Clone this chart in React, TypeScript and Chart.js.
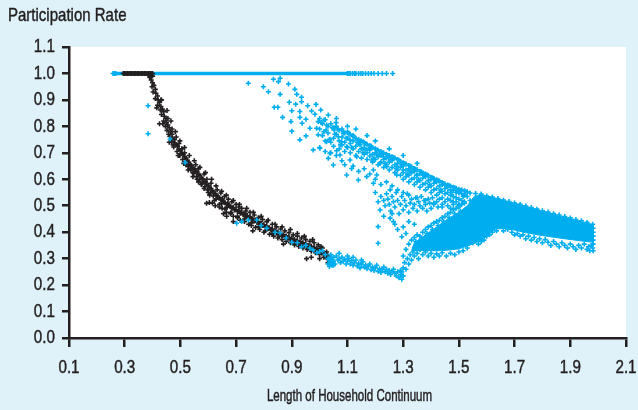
import React, { useEffect, useRef } from 'react';
import { Chart, registerables } from 'chart.js';

Chart.register(...registerables);

const BLUE = '#00aeef';
const BLACK = '#231f20';
const BG = '#dff1f9';
const FONT = '"Liberation Sans", Arial, sans-serif';

const xTicks = [0.1, 0.3, 0.5, 0.7, 0.9, 1.1, 1.3, 1.5, 1.7, 1.9, 2.1];
const yTicks = [0.0, 0.1, 0.2, 0.3, 0.4, 0.5, 0.6, 0.7, 0.8, 0.9, 1.0, 1.1];
const yTitle = 'Participation Rate';
const xTitle = 'Length of Household Continuum';

// blue solid run at participation rate 1.0
const blueLineX = [0.27, 1.1];
const blueLineY = [1.0, 1.0];

// black series (x, y pairs)
const blackFlat = [
  0.295, 1.0, 0.3, 1.0, 0.305, 1.0, 0.31, 1.0, 0.315, 1.0, 0.32, 1.0, 0.325, 1.0, 0.33, 1.0, 0.335, 1.0,
  0.34, 1.0, 0.345, 1.0, 0.35, 1.0, 0.355, 1.0, 0.36, 1.0, 0.365, 1.0, 0.37, 1.0, 0.375, 1.0, 0.38, 1.0,
  0.385, 1.0, 0.39, 1.0, 0.395, 1.0, 0.4, 1.0, 0.385, 0.995, 0.395, 0.99, 0.4, 0.99,
];
const blackCurve = [
  0.39, 0.985, 0.395, 0.975, 0.4, 0.965, 0.398, 0.95, 0.405, 0.955, 0.41, 0.94, 0.402, 0.93, 0.412, 0.925,
  0.418, 0.915, 0.41, 0.905, 0.42, 0.9, 0.425, 0.89, 0.418, 0.88, 0.43, 0.875, 0.428, 0.862, 0.435, 0.865,
  0.44, 0.855, 0.432, 0.845, 0.442, 0.838, 0.448, 0.83, 0.44, 0.82, 0.45, 0.815, 0.455, 0.805, 0.446, 0.8,
  0.46, 0.795, 0.452, 0.785, 0.465, 0.78, 0.47, 0.77, 0.462, 0.762, 0.472, 0.755, 0.478, 0.75, 0.468, 0.742,
  0.48, 0.738, 0.485, 0.73, 0.476, 0.722, 0.49, 0.725, 0.495, 0.715, 0.488, 0.705, 0.5, 0.708, 0.505, 0.698,
  0.498, 0.69, 0.51, 0.695, 0.515, 0.685, 0.508, 0.675, 0.52, 0.68, 0.525, 0.672, 0.518, 0.66, 0.53, 0.665,
  0.535, 0.655, 0.528, 0.648, 0.54, 0.652, 0.545, 0.643, 0.538, 0.635, 0.55, 0.64, 0.555, 0.63, 0.548, 0.622,
  0.56, 0.628, 0.565, 0.618, 0.558, 0.61, 0.57, 0.615, 0.575, 0.605, 0.568, 0.598, 0.58, 0.602, 0.585, 0.592,
  0.578, 0.585, 0.59, 0.59, 0.595, 0.58, 0.588, 0.572, 0.6, 0.577, 0.605, 0.568, 0.598, 0.56, 0.61, 0.565,
  0.615, 0.555, 0.608, 0.548, 0.62, 0.552, 0.625, 0.545, 0.618, 0.537, 0.63, 0.54, 0.635, 0.533, 0.628, 0.525,
  0.64, 0.53, 0.645, 0.522, 0.65, 0.525, 0.655, 0.515, 0.648, 0.508, 0.66, 0.512, 0.665, 0.505, 0.67, 0.51,
  0.675, 0.5, 0.668, 0.494, 0.68, 0.498, 0.685, 0.49, 0.69, 0.493, 0.695, 0.484, 0.7, 0.486, 0.705, 0.478,
  0.71, 0.482, 0.715, 0.472, 0.72, 0.475, 0.725, 0.466, 0.73, 0.47, 0.735, 0.46, 0.74, 0.463, 0.745, 0.455,
  0.75, 0.458, 0.755, 0.448, 0.76, 0.45, 0.765, 0.442, 0.77, 0.446, 0.775, 0.437, 0.78, 0.44, 0.785, 0.43,
  0.79, 0.434, 0.795, 0.425, 0.8, 0.428, 0.805, 0.42, 0.81, 0.423, 0.815, 0.414, 0.82, 0.417, 0.825, 0.408,
  0.83, 0.412, 0.835, 0.402, 0.84, 0.406, 0.845, 0.397, 0.85, 0.4, 0.855, 0.392, 0.86, 0.395, 0.865, 0.387,
  0.87, 0.39, 0.875, 0.382, 0.88, 0.386, 0.885, 0.377, 0.89, 0.381, 0.895, 0.372, 0.9, 0.377, 0.905, 0.368,
  0.91, 0.372, 0.915, 0.364, 0.92, 0.368, 0.925, 0.36, 0.93, 0.364, 0.935, 0.355, 0.94, 0.36, 0.945, 0.352,
  0.95, 0.356, 0.955, 0.347, 0.96, 0.351, 0.965, 0.343, 0.97, 0.347, 0.975, 0.338, 0.98, 0.343, 0.985, 0.334,
  0.99, 0.338, 0.995, 0.33, 1.0, 0.334, 1.005, 0.325, 1.01, 0.322, 1.015, 0.315, 1.02, 0.31, 1.025, 0.303,
  1.03, 0.298, 1.035, 0.29,
];
const blackSpread = [
  0.43, 0.9, 0.455, 0.83, 0.425, 0.81, 0.46, 0.74, 0.47, 0.79, 0.485, 0.76, 0.495, 0.735, 0.505, 0.715,
  0.515, 0.7, 0.52, 0.655, 0.535, 0.64, 0.545, 0.625, 0.555, 0.655, 0.565, 0.64, 0.56, 0.6, 0.575, 0.58,
  0.585, 0.62, 0.595, 0.6, 0.6, 0.55, 0.61, 0.585, 0.594, 0.509, 0.604, 0.512, 0.615, 0.51, 0.625, 0.5,
  0.632, 0.56, 0.64, 0.505, 0.645, 0.548, 0.65, 0.49, 0.658, 0.535, 0.665, 0.475, 0.672, 0.525, 0.68, 0.47,
  0.685, 0.515, 0.69, 0.46, 0.7, 0.505, 0.705, 0.455, 0.71, 0.495, 0.715, 0.445, 0.72, 0.49, 0.73, 0.44,
  0.735, 0.48, 0.745, 0.43, 0.75, 0.475, 0.755, 0.425, 0.765, 0.465, 0.77, 0.418, 0.78, 0.455, 0.785, 0.41,
  0.795, 0.448, 0.8, 0.4, 0.81, 0.44, 0.82, 0.392, 0.83, 0.43, 0.835, 0.385, 0.845, 0.42, 0.85, 0.378,
  0.86, 0.412, 0.865, 0.372, 0.875, 0.405, 0.88, 0.365, 0.89, 0.398, 0.895, 0.36, 0.905, 0.39, 0.91, 0.352,
  0.92, 0.385, 0.925, 0.346, 0.935, 0.378, 0.94, 0.34, 0.95, 0.372, 0.955, 0.335, 0.965, 0.366, 0.97, 0.328,
  0.98, 0.36, 0.985, 0.322, 0.995, 0.352, 1.0, 0.316, 1.01, 0.34, 1.015, 0.305, 1.025, 0.325, 1.03, 0.285,
  1.04, 0.295, 0.666, 0.46, 0.655, 0.47, 0.69, 0.44, 0.76, 0.405, 0.87, 0.355, 0.953, 0.3, 0.97, 0.305, 1.0, 0.3,
];
const blackWide = [
  0.415, 0.87, 0.432, 0.9, 0.437, 0.81, 0.452, 0.86, 0.458, 0.77, 0.466, 0.82, 0.474, 0.73, 0.482, 0.78,
  0.492, 0.69, 0.498, 0.745, 0.512, 0.66, 0.515, 0.72, 0.528, 0.635, 0.532, 0.69, 0.545, 0.61, 0.55, 0.67,
  0.565, 0.59, 0.57, 0.645, 0.585, 0.565, 0.59, 0.625, 0.605, 0.54, 0.612, 0.6, 0.622, 0.52, 0.628, 0.575,
  0.64, 0.495, 0.648, 0.555, 0.66, 0.488, 0.665, 0.54, 0.682, 0.475, 0.69, 0.52, 0.705, 0.46, 0.712, 0.505,
  0.73, 0.45, 0.738, 0.49, 0.755, 0.435, 0.762, 0.475, 0.78, 0.42, 0.79, 0.46, 0.805, 0.405, 0.815, 0.445,
  0.83, 0.395, 0.84, 0.43, 0.855, 0.385, 0.865, 0.42, 0.88, 0.375, 0.895, 0.41, 0.91, 0.36, 0.92, 0.395,
  0.935, 0.35, 0.945, 0.385, 0.96, 0.34, 0.975, 0.372, 0.99, 0.33, 1.005, 0.345, 1.02, 0.32, 1.03, 0.31,
];

// blue series (x, y pairs)
const blueFlatEnds = [
  0.258, 1.0, 0.263, 1.0, 0.268, 1.0, 1.1, 1.0, 1.105, 1.0, 1.11, 1.0, 1.118, 1.0, 1.125, 1.0, 1.13, 1.0,
  1.14, 1.0, 1.148, 1.0, 1.155, 1.0, 1.165, 1.0, 1.175, 1.0, 1.185, 1.0, 1.195, 1.0, 1.21, 1.0, 1.225, 1.0,
  1.24, 1.0, 1.262, 1.0,
];
const blueLeft = [
  0.384, 0.878, 0.384, 0.772, 0.463, 0.752, 0.517, 0.663,
  0.702, 0.434, 0.72, 0.44, 0.744, 0.446, 0.774, 0.446, 0.79, 0.425, 0.81, 0.415, 0.84, 0.4, 0.858, 0.397,
  0.88, 0.378, 0.9, 0.362, 0.92, 0.36, 0.935, 0.345, 0.95, 0.35, 0.965, 0.34, 0.976, 0.333, 0.99, 0.322,
  1.0, 0.327, 1.01, 0.33, 1.02, 0.315,
  1.03, 0.28, 1.035, 0.295, 1.04, 0.285, 1.04, 0.305, 1.045, 0.275, 1.045, 0.295, 1.05, 0.29, 1.05, 0.305,
  1.055, 0.28, 1.035, 0.27, 1.04, 0.315, 1.03, 0.3, 1.045, 0.285, 1.05, 0.275,
];
const blueLower = [
  1.06, 0.31, 1.065, 0.295, 1.07, 0.3, 1.075, 0.285, 1.08, 0.305, 1.085, 0.29, 1.09, 0.298, 1.095, 0.28,
  1.1, 0.29, 1.105, 0.3, 1.11, 0.28, 1.115, 0.292, 1.12, 0.275, 1.125, 0.285, 1.13, 0.295, 1.135, 0.272,
  1.14, 0.282, 1.145, 0.265, 1.15, 0.278, 1.155, 0.288, 1.16, 0.268, 1.165, 0.276, 1.17, 0.262, 1.175, 0.272,
  1.18, 0.28, 1.185, 0.258, 1.19, 0.268, 1.195, 0.255, 1.2, 0.265, 1.205, 0.275, 1.21, 0.252, 1.215, 0.262,
  1.22, 0.248, 1.225, 0.258, 1.23, 0.268, 1.235, 0.25, 1.24, 0.26, 1.245, 0.245, 1.25, 0.255, 1.255, 0.24,
  1.26, 0.25, 1.265, 0.26, 1.27, 0.245, 1.275, 0.235, 1.28, 0.25, 1.285, 0.228, 1.29, 0.24, 1.295, 0.222,
  1.29, 0.255, 1.3, 0.235, 1.07, 0.32, 1.1, 0.31, 1.12, 0.305, 1.15, 0.295,
];
const blueUpper = [
  0.744, 0.963, 0.798, 0.95, 0.816, 0.931, 0.834, 0.978, 0.858, 0.982, 0.852, 0.969, 0.888, 0.96, 0.911, 0.94,
  0.858, 0.921, 0.918, 0.921, 0.935, 0.91, 0.935, 0.893, 0.891, 0.891, 0.914, 0.884, 0.837, 0.872, 0.85, 0.872,
  0.957, 0.878, 0.987, 0.883, 0.9, 0.859, 0.929, 0.856, 0.971, 0.858, 1.004, 0.862, 0.867, 0.834, 0.929, 0.834,
  0.951, 0.827, 0.983, 0.846, 0.995, 0.818, 1.016, 0.824, 1.031, 0.843, 0.897, 0.818, 0.937, 0.812, 0.965, 0.793,
  0.989, 0.793, 1.023, 0.786, 1.052, 0.786, 1.059, 0.814, 0.9, 0.782, 0.951, 0.764, 0.929, 0.749, 0.995, 0.768,
  1.037, 0.751, 1.067, 0.761, 1.085, 0.774, 0.977, 0.711, 1.001, 0.717, 1.025, 0.742, 1.037, 0.698, 1.061, 0.708,
  1.079, 0.742, 1.097, 0.723, 1.109, 0.749, 1.121, 0.761, 1.031, 0.679, 1.049, 0.654, 1.073, 0.692, 1.097, 0.616,
  1.115, 0.641, 1.109, 0.673, 1.133, 0.685, 1.145, 0.73, 1.157, 0.742, 1.163, 0.711, 1.181, 0.717, 1.187, 0.673,
  1.205, 0.692, 1.169, 0.61, 1.193, 0.635, 1.217, 0.66, 1.229, 0.685, 1.241, 0.648, 1.253, 0.673, 1.277, 0.648,
  1.3, 0.635, 1.324, 0.629, 1.348, 0.616, 1.372, 0.616, 1.277, 0.616, 1.205, 0.616,
  1.06, 0.83, 1.1, 0.8, 1.13, 0.79, 1.17, 0.765, 1.2, 0.745, 1.25, 0.715, 1.3, 0.69, 1.35, 0.66,
];
const blueStripe = [
  1.0, 0.83, 1.0, 0.79, 1.01, 0.81, 1.01, 0.765, 1.02, 0.825, 1.02, 0.745, 1.03, 0.8, 1.03, 0.775,
  1.04, 0.81, 1.04, 0.74, 1.05, 0.795, 1.05, 0.755, 1.05, 0.725, 1.06, 0.8, 1.06, 0.77,
  1.07, 0.785, 1.07, 0.745, 1.07, 0.715, 1.08, 0.79, 1.08, 0.76, 1.08, 0.73, 1.09, 0.775, 1.09, 0.74, 1.09, 0.705,
  1.1, 0.78, 1.1, 0.755, 1.1, 0.72, 1.11, 0.77, 1.11, 0.735, 1.11, 0.7, 1.12, 0.765, 1.12, 0.745, 1.12, 0.715,
  1.13, 0.755, 1.13, 0.725, 1.13, 0.69, 1.14, 0.75, 1.14, 0.735, 1.14, 0.705, 1.15, 0.745, 1.15, 0.715, 1.15, 0.68,
  1.16, 0.738, 1.16, 0.72, 1.16, 0.695, 1.17, 0.732, 1.17, 0.7, 1.17, 0.675, 1.18, 0.728, 1.18, 0.71, 1.18, 0.688,
  1.19, 0.72, 1.19, 0.695, 1.19, 0.665, 1.2, 0.715, 1.2, 0.7, 1.2, 0.675, 1.21, 0.71, 1.21, 0.685, 1.21, 0.655,
  1.22, 0.705, 1.22, 0.69, 1.22, 0.665, 1.23, 0.7, 1.23, 0.675, 1.23, 0.645, 1.24, 0.695, 1.24, 0.68, 1.24, 0.655,
  1.25, 0.69, 1.25, 0.665, 1.25, 0.635, 1.26, 0.685, 1.26, 0.67, 1.26, 0.645, 1.27, 0.68, 1.27, 0.655, 1.27, 0.625,
  1.28, 0.675, 1.28, 0.66, 1.28, 0.635, 1.29, 0.668, 1.29, 0.645, 1.29, 0.615, 1.3, 0.662, 1.3, 0.65, 1.3, 0.625,
  1.3, 0.6, 1.31, 0.658, 1.31, 0.635, 1.31, 0.61, 1.32, 0.652, 1.32, 0.64, 1.32, 0.615, 1.32, 0.59,
  1.33, 0.647, 1.33, 0.625, 1.33, 0.6, 1.34, 0.641, 1.34, 0.63, 1.34, 0.605, 1.34, 0.58, 1.35, 0.636, 1.35, 0.615,
  1.35, 0.59, 1.36, 0.63, 1.36, 0.62, 1.36, 0.595, 1.36, 0.57, 1.37, 0.625, 1.37, 0.605, 1.37, 0.58,
  1.38, 0.62, 1.38, 0.61, 1.38, 0.585, 1.38, 0.56, 1.39, 0.614, 1.39, 0.595, 1.39, 0.57, 1.4, 0.608, 1.4, 0.6,
  1.4, 0.575, 1.4, 0.55, 1.41, 0.603, 1.41, 0.585, 1.41, 0.56, 1.42, 0.598, 1.42, 0.59, 1.42, 0.565, 1.42, 0.54,
  1.43, 0.593, 1.43, 0.575, 1.43, 0.55, 1.44, 0.588, 1.44, 0.58, 1.44, 0.555, 1.44, 0.53, 1.45, 0.582, 1.45, 0.565,
  1.45, 0.545, 1.46, 0.578, 1.46, 0.57, 1.46, 0.55, 1.46, 0.525, 1.47, 0.574, 1.47, 0.56, 1.47, 0.54,
  1.48, 0.57, 1.48, 0.558, 1.48, 0.535, 1.48, 0.515, 1.49, 0.566, 1.49, 0.55, 1.49, 0.53, 1.5, 0.562, 1.5, 0.548,
  1.5, 0.525, 1.5, 0.505, 1.51, 0.56, 1.51, 0.545, 1.51, 0.52, 1.52, 0.557, 1.52, 0.54, 1.52, 0.515, 1.53, 0.553,
  1.53, 0.535,
];
const blueStripeFill = [
  1.005, 0.815, 1.015, 0.78, 1.025, 0.805, 1.035, 0.75, 1.045, 0.795, 1.055, 0.77, 1.065, 0.79, 1.075, 0.73,
  1.085, 0.78, 1.095, 0.755, 1.105, 0.77, 1.115, 0.72, 1.125, 0.76, 1.135, 0.74, 1.145, 0.745, 1.155, 0.7,
  1.165, 0.735, 1.175, 0.715, 1.185, 0.725, 1.195, 0.68, 1.205, 0.712, 1.215, 0.695, 1.225, 0.7, 1.235, 0.66,
  1.245, 0.69, 1.255, 0.675, 1.265, 0.682, 1.275, 0.64, 1.285, 0.672, 1.295, 0.655, 1.305, 0.66, 1.315, 0.62,
  1.325, 0.65, 1.335, 0.635, 1.345, 0.638, 1.355, 0.6, 1.365, 0.628, 1.375, 0.615, 1.385, 0.617, 1.395, 0.58,
  1.405, 0.606, 1.415, 0.594, 1.425, 0.596, 1.435, 0.56, 1.445, 0.584, 1.455, 0.575, 1.465, 0.576, 1.475, 0.55,
  1.485, 0.568, 1.495, 0.556, 1.505, 0.558, 1.515, 0.535, 1.525, 0.553,
];
const blueMid = [
  1.0, 0.72, 1.02, 0.705, 1.04, 0.7, 1.06, 0.69, 1.08, 0.67, 1.09, 0.655, 1.12, 0.65, 1.14, 0.63, 1.16, 0.64,
  1.18, 0.62, 1.2, 0.6, 1.22, 0.58, 1.24, 0.59, 1.26, 0.575, 1.28, 0.56, 1.3, 0.55, 1.32, 0.54, 1.35, 0.53,
  1.38, 0.52, 1.41, 0.51, 1.44, 0.495, 1.47, 0.49, 1.139, 0.597, 1.193, 0.585, 1.253, 0.56,
  1.2, 0.55, 1.21, 0.515, 1.217, 0.484, 1.22, 0.535, 1.23, 0.52, 1.235, 0.5, 1.24, 0.545, 1.245, 0.525,
  1.25, 0.505, 1.253, 0.453, 1.255, 0.48, 1.26, 0.535, 1.265, 0.44, 1.265, 0.515, 1.27, 0.495, 1.275, 0.55,
  1.28, 0.52, 1.285, 0.47, 1.29, 0.505, 1.295, 0.535, 1.3, 0.485, 1.305, 0.52, 1.31, 0.5, 1.315, 0.545,
  1.32, 0.475, 1.325, 0.51, 1.33, 0.525, 1.335, 0.49, 1.34, 0.505, 1.345, 0.53, 1.35, 0.48, 1.355, 0.515,
  1.36, 0.5, 1.365, 0.535, 1.37, 0.49, 1.375, 0.52, 1.38, 0.505, 1.385, 0.48, 1.39, 0.525, 1.395, 0.51,
  1.4, 0.49, 1.405, 0.53, 1.41, 0.505, 1.42, 0.515, 1.425, 0.495, 1.43, 0.525, 1.44, 0.505, 1.45, 0.515,
  1.46, 0.5, 1.47, 0.52, 1.48, 0.505, 1.49, 0.515, 1.5, 0.5,
  1.21, 0.421, 1.21, 0.358, 1.295, 0.383, 1.26, 0.47, 1.28, 0.41, 1.3, 0.42, 1.32, 0.44, 1.34, 0.43, 1.31, 0.395,
  1.27, 0.43, 1.23, 0.46,
];
const blueWedge = [
  1.295, 0.25, 1.3, 0.265, 1.305, 0.285, 1.31, 0.26, 1.315, 0.3, 1.32, 0.28, 1.325, 0.315, 1.33, 0.295,
  1.335, 0.325, 1.34, 0.31, 1.345, 0.345, 1.35, 0.32, 1.355, 0.3, 1.36, 0.335, 1.37, 0.315, 1.38, 0.325,
  1.39, 0.31, 1.4, 0.32, 1.41, 0.305, 1.42, 0.318, 1.43, 0.31, 1.44, 0.322, 1.455, 0.31, 1.47, 0.32,
  1.485, 0.315, 1.5, 0.325, 1.515, 0.33, 1.53, 0.34, 1.3, 0.31, 1.31, 0.335, 1.32, 0.355, 1.33, 0.37,
  1.34, 0.38, 1.35, 0.39, 1.36, 0.385, 1.37, 0.4, 1.38, 0.41, 1.39, 0.42, 1.4, 0.425, 1.41, 0.435, 1.42, 0.44,
  1.43, 0.445, 1.44, 0.455, 1.45, 0.46, 1.46, 0.47, 1.47, 0.475, 1.48, 0.485, 1.49, 0.49, 1.5, 0.495,
  1.51, 0.505, 1.52, 0.51, 1.54, 0.52, 1.345, 0.365, 1.365, 0.375, 1.385, 0.395, 1.405, 0.41, 1.425, 0.425,
  1.445, 0.44, 1.465, 0.455, 1.485, 0.47, 1.505, 0.48,
];
const blueTail = [
  1.54, 0.548, 1.56, 0.546, 1.58, 0.544, 1.6, 0.537, 1.62, 0.533, 1.64, 0.527, 1.66, 0.521, 1.68, 0.516,
  1.7, 0.51, 1.72, 0.505, 1.74, 0.499, 1.76, 0.493, 1.78, 0.487, 1.8, 0.481, 1.82, 0.476, 1.84, 0.47,
  1.86, 0.465, 1.88, 0.459, 1.9, 0.454, 1.92, 0.448, 1.94, 0.443, 1.96, 0.437, 1.98, 0.43,
  1.54, 0.375, 1.55, 0.36, 1.56, 0.37, 1.57, 0.355, 1.58, 0.365, 1.59, 0.37, 1.6, 0.385, 1.61, 0.39,
  1.62, 0.4, 1.635, 0.405, 1.66, 0.405, 1.675, 0.41, 1.69, 0.4, 1.7, 0.39, 1.71, 0.395, 1.72, 0.385,
  1.73, 0.39, 1.74, 0.375, 1.75, 0.385, 1.76, 0.37, 1.77, 0.38, 1.78, 0.365, 1.79, 0.375, 1.8, 0.36,
  1.81, 0.372, 1.82, 0.362, 1.83, 0.35, 1.84, 0.365, 1.85, 0.355, 1.86, 0.345, 1.87, 0.36, 1.88, 0.35,
  1.89, 0.34, 1.9, 0.355, 1.91, 0.345, 1.92, 0.335, 1.93, 0.35, 1.94, 0.34, 1.95, 0.355, 1.96, 0.335,
  1.965, 0.345, 1.97, 0.33, 1.975, 0.35, 1.98, 0.34, 1.982, 0.355, 1.982, 0.37, 1.982, 0.385, 1.982, 0.4,
  1.982, 0.415, 1.982, 0.33,
];

// outline of the densest blue region (drawn as a filled shape)
const bandX = [1.33, 1.34, 1.38, 1.42, 1.46, 1.5, 1.53, 1.555, 1.58, 1.62, 1.68, 1.74, 1.8, 1.86, 1.92, 1.982,
  1.982, 1.94, 1.88, 1.8, 1.74, 1.7, 1.665, 1.63, 1.61, 1.59, 1.55, 1.5, 1.44, 1.38, 1.33];
const bandY = [0.33, 0.36, 0.39, 0.42, 0.45, 0.475, 0.5, 0.535, 0.542, 0.532, 0.515, 0.498, 0.48, 0.463, 0.446, 0.428,
  0.362, 0.367, 0.375, 0.387, 0.398, 0.408, 0.414, 0.412, 0.395, 0.375, 0.355, 0.337, 0.33, 0.33, 0.33];

function pairs(arr: number[]) {
  const out: { x: number; y: number }[] = [];
  for (let i = 0; i + 1 < arr.length; i += 2) out.push({ x: arr[i], y: arr[i + 1] });
  return out;
}
function zip(xs: number[], ys: number[]) {
  return xs.map((x, i) => ({ x, y: ys[i] }));
}

function condensedText(ctx: any, text: string, x: number, y: number, size: number, sx: number, align: string) {
  ctx.save();
  ctx.translate(x, y);
  ctx.scale(sx, 1);
  ctx.font = `${size}px ${FONT}`;
  ctx.fillStyle = BLACK;
  ctx.strokeStyle = BLACK;
  ctx.lineWidth = 0.45;
  ctx.textAlign = align;
  ctx.textBaseline = 'middle';
  ctx.fillText(text, 0, 0);
  ctx.strokeText(text, 0, 0);
  ctx.restore();
}

const bgPlugin = {
  id: 'bgPlugin',
  beforeDraw(chart: any) {
    const { ctx, chartArea, width, height } = chart;
    ctx.save();
    ctx.fillStyle = BG;
    ctx.fillRect(0, 0, width, height);
    ctx.fillStyle = '#ffffff';
    ctx.fillRect(chartArea.left, chartArea.top, chartArea.right - chartArea.left, chartArea.bottom - chartArea.top);
    ctx.restore();
  },
  afterDraw(chart: any) {
    const { ctx, chartArea } = chart;
    const xs = chart.scales.x;
    const ys = chart.scales.y;
    xTicks.forEach((v) => condensedText(ctx, v.toFixed(1), xs.getPixelForValue(v), 368, 19, 0.8, 'center'));
    yTicks.forEach((v) => condensedText(ctx, v.toFixed(1), chartArea.left - 14, ys.getPixelForValue(v), 19, 0.8, 'right'));
    condensedText(ctx, yTitle, 8, 16, 19, 0.79, 'left');
    condensedText(ctx, xTitle, (chartArea.left + chartArea.right) / 2 + 2, 397, 16, 0.72, 'center');
  },
};

const pointStyle = (color: string) => ({
  pointStyle: 'cross',
  pointRadius: 2.5,
  pointBorderWidth: 1.6,
  pointBorderColor: color,
  pointBackgroundColor: color,
  borderColor: color,
  backgroundColor: color,
  showLine: false,
});

export default function App() {
  const ref = useRef<HTMLCanvasElement | null>(null);
  useEffect(() => {
    if (!ref.current) return;
    const chart = new Chart(ref.current, {
      type: 'scatter',
      data: {
        datasets: [
          {
            label: 'blue',
            data: [
              ...pairs(blueFlatEnds), ...pairs(blueLeft), ...pairs(blueLower), ...pairs(blueUpper),
              ...pairs(blueStripe), ...pairs(blueStripeFill), ...pairs(blueMid), ...pairs(blueWedge), ...pairs(blueTail),
            ],
            ...pointStyle(BLUE),
          } as any,
          {
            label: 'black',
            data: [...pairs(blackFlat), ...pairs(blackCurve), ...pairs(blackSpread), ...pairs(blackWide)],
            ...pointStyle(BLACK),
          } as any,
          {
            label: 'blueLine',
            data: zip(blueLineX, blueLineY),
            showLine: true,
            borderColor: BLUE,
            borderWidth: 3.5,
            pointRadius: 0,
            fill: false,
          } as any,
          {
            label: 'band',
            data: zip(bandX, bandY),
            showLine: true,
            borderColor: BLUE,
            backgroundColor: BLUE,
            borderWidth: 1,
            pointRadius: 0,
            tension: 0,
            fill: 'shape',
          } as any,
        ],
      },
      options: {
        animation: false,
        responsive: false,
        devicePixelRatio: 1,
        events: [],
        layout: { padding: { left: 0, right: 12, top: 47, bottom: 0 } },
        plugins: { legend: { display: false }, tooltip: { enabled: false }, title: { display: false } },
        scales: {
          x: {
            type: 'linear',
            min: 0.1,
            max: 2.1,
            afterBuildTicks: (s: any) => { s.ticks = xTicks.map((v) => ({ value: v })); },
            afterFit: (s: any) => { s.height = 72; s.paddingLeft = 0; s.paddingRight = 0; },
            grid: { drawOnChartArea: false, drawTicks: true, tickLength: 9, tickWidth: 2.5, tickColor: BLACK, color: BLACK, lineWidth: 2.5 },
            border: { display: true, color: BLACK, width: 2.5 },
            ticks: { display: false, autoSkip: false },
            title: { display: false },
          },
          y: {
            type: 'linear',
            min: 0,
            max: 1.1,
            afterBuildTicks: (s: any) => { s.ticks = yTicks.map((v) => ({ value: v })); },
            afterFit: (s: any) => { s.width = 69; s.paddingTop = 0; s.paddingBottom = 0; },
            grid: { drawOnChartArea: false, drawTicks: true, tickLength: 7, tickWidth: 2.5, tickColor: BLACK, color: BLACK, lineWidth: 2.5 },
            border: { display: true, color: BLACK, width: 2.5 },
            ticks: { display: false, autoSkip: false },
          },
        },
      },
      plugins: [bgPlugin],
    } as any);
    return () => chart.destroy();
  }, []);

  return (
    <div style={{ position: 'absolute', left: 0, top: 0, width: 638, height: 410, background: BG }}>
      <canvas ref={ref} width={638} height={410} style={{ display: 'block', width: 638, height: 410 }} />
    </div>
  );
}
